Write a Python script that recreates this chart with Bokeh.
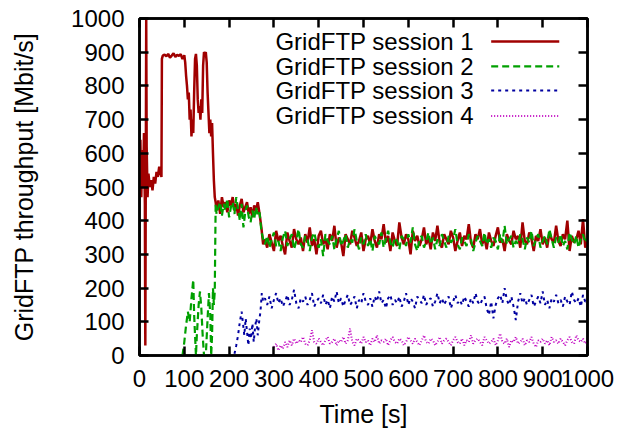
from bokeh.plotting import figure
from bokeh.models import Range1d, FixedTicker, LinearAxis, Label, Arrow, CustomLabelingPolicy
from bokeh.embed import file_html
from bokeh.resources import INLINE

FONT = "Liberation Sans"

# ---------------- data ----------------
x_ticks = [0, 100, 200, 300, 400, 500, 600, 700, 800, 900, 1000]
y_ticks = [0, 100, 200, 300, 400, 500, 600, 700, 800, 900, 1000]
series_names = ["GridFTP session 1", "GridFTP session 2", "GridFTP session 3", "GridFTP session 4"]

# session 1: start-up phase (irregular samples)
s1_start_t = [0, 2, 4, 6, 8, 10, 12, 13, 14, 15, 16, 18, 20, 23, 26, 29, 32, 35, 38, 41, 44, 47, 49, 50]
s1_start_v = [560, 640, 470, 610, 500, 660, 450, 30, 520, 1000, 620, 470, 540, 500, 520, 490, 530, 510,
              545, 530, 560, 540, 530, 880]
s1_flat_t = list(range(52, 101, 4))
s1_flat_v = [890, 893, 888, 895, 884, 890, 897, 886, 892, 889, 894, 880, 891]
s1_fluct_t = list(range(102, 171, 2))
s1_fluct_v = [870, 830, 800, 760, 780, 700, 730, 650, 700, 660, 780, 880, 895, 860, 760, 720, 740, 700,
              760, 720, 860, 900, 895, 900, 870, 780, 720, 660, 700, 650, 690, 600, 520, 470, 455]

# sessions 1 and 2 share the 172..276 s phase
mid_t = list(range(172, 277, 4))
s1_mid_v = [430, 460, 420, 470, 440, 455, 425, 460, 445, 470, 430, 450, 415, 445, 465, 425, 440, 455,
            420, 440, 410, 445, 430, 455, 420, 380, 330]
s2_mid_v = [420, 440, 455, 415, 450, 430, 465, 410, 440, 455, 420, 470, 435, 400, 450, 380, 425, 445,
            410, 395, 430, 405, 440, 415, 425, 370, 345]

# steady phase 280..1000 s, every 5 s
steady_t = list(range(280, 1001, 5))
s1_steady_v = [
    345, 320, 360, 335, 310, 370, 340, 355, 325, 300,
    365, 340, 320, 375, 345, 330, 350, 310, 360, 335,
    380, 325, 345, 300, 355, 370, 330, 345, 315, 360,
    340, 385, 320, 350, 335, 295, 360, 345, 330, 370,
    350, 325, 340, 365, 310, 345, 355, 330, 375, 340,
    320, 360, 345, 390, 335, 355, 310, 365, 340, 325,
    395, 350, 330, 360, 345, 300, 370, 340, 355, 325,
    345, 380, 330, 350, 315, 365, 340, 385, 335, 320,
    360, 345, 330, 370, 350, 310, 340, 365, 325, 355,
    345, 390, 335, 320, 360, 345, 375, 330, 350, 315,
    365, 340, 325, 355, 380, 335, 345, 310, 360, 340,
    330, 370, 345, 355, 320, 395, 340, 330, 365, 345,
    310, 355, 340, 375, 330, 350, 320, 365, 345, 335,
    385, 340, 325, 360, 345, 400, 310, 355, 335, 345,
    370, 330, 405, 320, 340]
s2_steady_v = [
    330, 355, 320, 345, 365, 325, 340, 310, 350, 370,
    325, 345, 360, 315, 340, 375, 330, 320, 355, 345,
    310, 350, 365, 335, 320, 345, 295, 360, 340, 330,
    355, 315, 345, 370, 325, 340, 360, 320, 345, 335,
    375, 340, 315, 350, 330, 360, 325, 345, 310, 355,
    340, 330, 365, 320, 345, 370, 335, 320, 350, 340,
    315, 355, 345, 325, 360, 335, 380, 330, 310, 345,
    355, 320, 340, 365, 330, 350, 315, 345, 325, 360,
    340, 320, 355, 335, 345, 375, 330, 315, 350, 340,
    325, 360, 345, 310, 335, 355, 340, 325, 365, 330,
    345, 320, 350, 340, 315, 360, 335, 385, 330, 345,
    355, 320, 340, 330, 360, 345, 315, 350, 335, 370,
    325, 345, 360, 320, 340, 355, 330, 375, 345, 320,
    350, 335, 360, 325, 340, 315, 365, 345, 330, 355,
    320, 345, 360, 335, 350]

# session 2: ramp-up phase
s2_start_t = [96, 100, 104, 108, 112, 116, 120, 122, 124, 126, 128, 132, 135, 138, 141, 144, 148, 152,
              155, 158, 160, 162, 164, 166, 168, 170]
s2_start_v = [0, 40, 90, 130, 100, 170, 225, 120, 60, 0, 60, 150, 190, 140, 60, 0, 0, 110, 185, 120, 0,
              60, 200, 150, 190, 450]

# session 3
s3_start_t = [212, 216, 220, 224, 228, 231, 234, 237, 240, 243, 246, 249, 252, 255, 258, 261, 264, 267,
              270, 273, 276]
s3_start_v = [5, 30, 60, 100, 130, 95, 60, 110, 70, 30, 80, 50, 95, 40, 85, 110, 60, 100, 130, 185, 160]
s3_steady_v = [
    170, 150, 175, 140, 165, 185, 155, 170, 145, 160,
    180, 150, 165, 195, 155, 140, 170, 160, 175, 150,
    165, 185, 145, 160, 170, 155, 180, 150, 165, 140,
    175, 160, 190, 155, 170, 145, 165, 180, 150, 160,
    175, 140, 165, 155, 185, 160, 150, 170, 145, 175,
    160, 190, 155, 165, 140, 170, 180, 150, 165, 155,
    175, 145, 160, 185, 150, 170, 160, 140, 175, 165,
    155, 180, 150, 165, 170, 145, 160, 185, 155, 170,
    150, 165, 175, 140, 160, 180, 155, 165, 150, 175,
    160, 145, 170, 155, 185, 160, 150, 165, 175, 140,
    120, 160, 110, 150, 170, 180, 155, 200, 165, 150,
    175, 145, 105, 160, 185, 155, 170, 150, 165, 180,
    145, 160, 175, 155, 190, 150, 165, 140, 170, 160,
    180, 155, 165, 145, 175, 160, 150, 190, 165, 155,
    170, 145, 180, 160, 165]

# session 4
s4_t = list(range(300, 1001, 5))
s4_v = [
    25, 35, 15, 30, 20, 40, 25, 45, 30, 50,
    35, 45, 40, 55, 35, 30, 45, 75, 40, 35,
    50, 40, 30, 45, 55, 35, 40, 50, 30, 45,
    40, 55, 35, 45, 80, 40, 30, 50, 45, 35,
    55, 40, 45, 30, 50, 40, 60, 35, 45, 40,
    50, 30, 45, 55, 40, 35, 50, 45, 30, 40,
    55, 45, 35, 50, 40, 30, 45, 60, 40, 35,
    50, 45, 30, 40, 55, 35, 45, 50, 40, 30,
    45, 55, 40, 35, 50, 30, 45, 40, 60, 35,
    45, 50, 40, 30, 55, 45, 35, 40, 50, 30,
    45, 65, 40, 35, 50, 25, 45, 40, 55, 35,
    40, 50, 30, 45, 40, 55, 35, 25, 45, 40,
    50, 35, 45, 30, 55, 40, 45, 35, 50, 40,
    30, 45, 55, 40, 35, 60, 45, 40, 50, 35,
    45]

s1_t = s1_start_t + s1_flat_t + s1_fluct_t + mid_t + steady_t
s1_v = s1_start_v + s1_flat_v + s1_fluct_v + s1_mid_v + s1_steady_v
s2_t = s2_start_t + mid_t + steady_t
s2_v = s2_start_v + s2_mid_v + s2_steady_v
s3_t = s3_start_t + steady_t
s3_v = s3_start_v + s3_steady_v

# ---------------- styles ----------------
colors = ["#a00000", "#00a000", "#0000a0", "#c000c0"]
dashes = ["solid", "7 4", "3 4", "1 2"]
widths = [2.5, 2.2, 2, 2]

p = figure(width=630, height=434, output_backend="svg", toolbar_location=None,
           x_range=Range1d(0, 1000), y_range=Range1d(0, 1000),
           min_border_left=139, min_border_right=43, min_border_top=18, min_border_bottom=79)
p.background_fill_color = "white"
p.border_fill_color = "white"
p.grid.visible = False
p.outline_line_color = "black"
p.outline_line_width = 2.5

for xs, ys, c, d, w in zip([s1_t, s2_t, s3_t, s4_t], [s1_v, s2_v, s3_v, s4_v], colors, dashes, widths):
    p.line(xs, ys, line_color=c, line_dash=d, line_width=w)

def style_axis(ax, labels=True):
    ax.ticker = FixedTicker(ticks=x_ticks if ax.dimension == 0 else y_ticks)
    ax.axis_line_color = "black"
    ax.axis_line_width = 2.5
    ax.major_tick_in = 9
    ax.major_tick_out = 0
    ax.major_tick_line_width = 2.5
    ax.major_tick_line_color = "black"
    ax.minor_tick_line_color = None
    ax.major_label_text_font = FONT
    ax.major_label_text_color = "black"
    if labels:
        ax.major_label_text_font_size = "24px"
    else:
        # mirror axis: ticks only, no labels at all
        ax.major_label_policy = CustomLabelingPolicy(code="return []")
        ax.major_label_text_font_size = "0px"
        ax.major_label_standoff = 0

xa = p.xaxis[0]
ya = p.yaxis[0]
style_axis(xa)
style_axis(ya)
xa.major_label_standoff = 14
ya.major_label_standoff = 15
xa.axis_label = "Time [s]"
ya.axis_label = "GridFTP throughput [Mbit/s]"
for ax in (xa, ya):
    ax.axis_label_text_font = FONT
    ax.axis_label_text_font_size = "25px"
    ax.axis_label_text_font_style = "normal"
    ax.axis_label_text_color = "black"
xa.axis_label_standoff = 10
ya.axis_label_standoff = 30

top = LinearAxis()
right = LinearAxis()
p.add_layout(top, "above")
p.add_layout(right, "right")
style_axis(top, labels=False)
style_axis(right, labels=False)

# legend (text right-aligned, key sample to the right)
leg_y = [932, 858, 786, 711]
for name, yy, c, d, w in zip(series_names, leg_y, colors, dashes, widths):
    p.add_layout(Label(x=747, y=yy, text=name, text_align="right", text_baseline="middle",
                       text_font=FONT, text_font_size="24px", text_color="black"))
    p.add_layout(Arrow(end=None, x_start=785, x_end=937, y_start=yy, y_end=yy,
                       line_color=c, line_dash=d, line_width=w))

open("out.html", "w").write(file_html(p, INLINE))
